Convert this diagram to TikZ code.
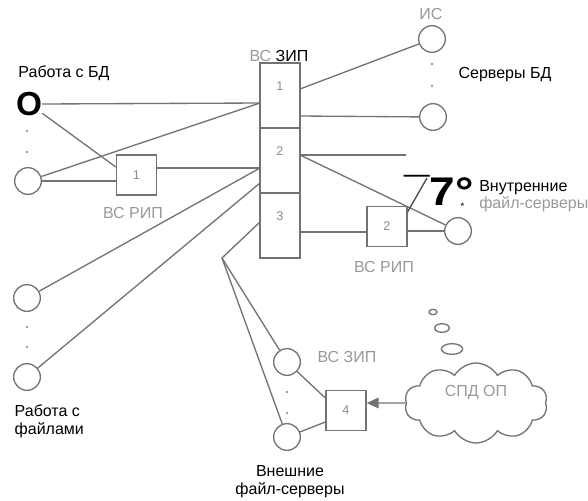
\documentclass[tikz,border=0pt]{standalone}
\usepackage{fontspec}
\setmainfont{Liberation Sans}
\usetikzlibrary{positioning,calc,shapes.symbols,arrows.meta}

\tikzset{
  wire/.style={draw=black!55, line width=1pt},
  station/.style={circle, draw=black!55, line width=1pt, minimum size=20pt, inner sep=0pt},
  unit/.style={rectangle, draw=black!55, line width=1pt, minimum width=30pt, minimum height=30pt, inner sep=0pt, text=black!45, font=\fontsize{9.5}{10}\selectfont},
  zipseg/.style={unit, minimum height=48.75pt, outer sep=0pt},
  num/.style={text=black!45, font=\fontsize{9.5}{10}\selectfont},
  greylabel/.style={text=black!40, font=\fontsize{12}{13.5}\selectfont},
  blacklabel/.style={text=black, font=\fontsize{12}{13.5}\selectfont},
}

\begin{document}
\begin{tikzpicture}[x=0.75pt,y=-0.75pt]
\useasboundingbox (0,0) rectangle (588,500);

% column ВС ЗИП
\node[zipseg, label={[num, yshift=7pt]center:1}] (z1) at (280,95.5) {};
\node[zipseg, label={[num, yshift=7pt]center:2}, below=0pt of z1] (z2) {};
\node[zipseg, label={[num, yshift=7pt]center:3}, below=0pt of z2] (z3) {};
\node[font=\fontsize{12}{13}\selectfont] (ziplbl) at (279,56) {\textcolor{black!40}{ВС} ЗИП};

% taps on the column
\coordinate (zA) at ($(z1.west)+(0,7.5)$);
\coordinate (zB) at ($(z2.west)+(0,7.5)$);
\coordinate (zC) at ($(z2.west)+(0,22.5)$);
\coordinate (zD) at ($(z3.west)+(0,-3.5)$);
\coordinate (zE) at ($(z1.east)+(0,-6.5)$);
\coordinate (zF) at ($(z1.east)+(0,20.5)$);
\coordinate (zG) at ($(z2.east)+(0,-5.5)$);
\coordinate (zH) at ($(z3.east)+(0,6.5)$);

% work with DB
\node[blacklabel] (dblbl) at (64,73) {Работа с БД};
\node[font=\bfseries\fontsize{25}{25}\selectfont, inner sep=0pt] (db1) at (29,104) {O};
\node[station] (db2) at (28,181) {};
\fill[black!40] (27,131) circle (1pt) (27,152) circle (1pt);
\node[unit] (rip1) at (136.5,175) {1};
\node[greylabel] (rip1lbl) at (133,213) {ВС РИП};

\draw[wire] (db1.east) -- (zA);
\draw[wire] (db1.-35) -- ($(rip1.west)+(0,-8)$);
\draw[wire] (db2) -- (zA);
\draw[wire] (db2.east) -- (db2.east -| rip1.west);
\draw[wire] (rip1.east |- zB) -- (zB);

% work with files
\node[station] (f1) at (27,298) {};
\node[station] (f2) at (27,377) {};
\fill[black!40] (27,327) circle (1pt) (27,347) circle (1pt);
\node[blacklabel, align=left, anchor=west] (fileslbl) at (10,421) {Работа с\\файлами};
\draw[wire] (zB) -- (f1);
\draw[wire] (zC) -- (f2);

% DB servers
\node[greylabel] (islbl) at (431,14) {ИС};
\node[station] (s1) at (432,39) {};
\node[station] (s2) at (433,117) {};
\fill[black!40] (432,64) circle (1pt) (432,86) circle (1pt);
\node[blacklabel] (srvlbl) at (505,75) {Серверы БД};
\draw[wire] (zE) -- (s1);
\draw[wire] (zF) -- (s2);
\coordinate (stub) at (406,155);
\draw[wire] (zG) -- (stub);

% internal file servers
\node[station] (fs) at (458,231) {};
\node[unit] (rip2) at (387,226.5) {2};
\node[greylabel] (rip2lbl) at (384,267) {ВС РИП};
\draw[wire] (zG) -- (fs);
\draw[wire] (zH) -- (zH -| rip2.west);
\draw[wire] (rip2.east |- fs) -- (fs);
\coordinate (slash) at (427,178);
\draw[black!70, line width=1pt] ($(rip2.north east)+(0,6)$) -- (slash);
\node[font=\bfseries\fontsize{30}{30}\selectfont, inner sep=0pt, xscale=1.15, transform shape] (seven) at (439,192)
  {¯7°\llap{\mdseries\fontsize{7}{7}\selectfont\raisebox{-3pt}{*}\hspace{6pt}}};
\node[blacklabel, anchor=west, inner sep=0pt] (fslbl) at (479,188) {Внутренние};
\node[greylabel, anchor=west, inner sep=0pt] (fslbl2) at (479,204) {файл-серверы};

% external file servers
\coordinate (fork) at (222,258);
\node[station] (e1) at (287,362) {};
\node[station] (e2) at (287,437) {};
\fill[black!40] (287,392) circle (1pt) (287,413) circle (1pt);
\node[greylabel] (extzip) at (347,357) {ВС ЗИП};
\node[unit] (rip4) at (346,410.5) {4};
\node[blacklabel, align=center] (extlbl) at (290,482) {Внешние\\файл-серверы};
\draw[wire] (zD) -- (fork) -- (e1);
\draw[wire] (fork) -- (e2);
\draw[wire] (e1) -- ($(rip4.west)+(0,-12.5)$);
\draw[wire] (e2) -- ($(rip4.west)+(0,11.5)$);

% network cloud
\node[cloud, cloud puffs=10, cloud puff arc=120, aspect=1.8, draw=black!55, line width=1pt, minimum width=107pt, minimum height=60pt, inner sep=0pt] (spd) at (476,403) {};
\node[greylabel] (spdlbl) at (476,392) {СПД ОП};
\draw[wire, -{Triangle[length=9pt,width=8pt]}] (spd.west) -- ($(rip4.east)+(0,-7.5)$);
\draw[draw=black!55, line width=1pt] (433,312) ellipse (3pt and 2pt);
\draw[draw=black!55, line width=1pt] (442,328) ellipse (5.5pt and 3.2pt);
\draw[draw=black!55, line width=1pt] (452,349) ellipse (8pt and 4pt);

\end{tikzpicture}
\end{document}
